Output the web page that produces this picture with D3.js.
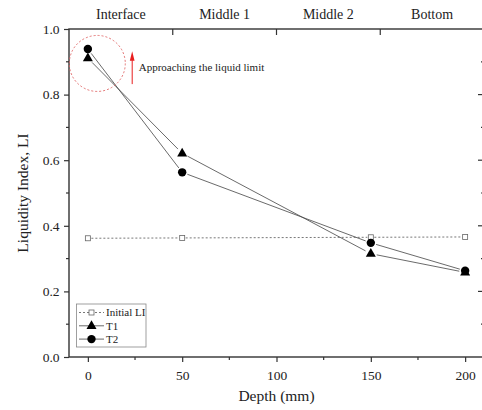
<!DOCTYPE html>
<html>
<head>
<meta charset="utf-8">
<script src="https://cdn.jsdelivr.net/npm/d3@7"></script>
<style>
  body { margin: 0; background: #fff; }
  svg text { font-family: "Liberation Serif", "Times New Roman", serif; fill: #222; }
</style>
</head>
<body>
<div id="chart"></div>
<script>
// Data
const depths = [0, 50, 150, 200];
const initialLI = [0.362, 0.363, 0.365, 0.366];
const t1 = [0.911, 0.621, 0.315, 0.258];
const t2 = [0.939, 0.563, 0.348, 0.263];
const zones = ["Interface", "Middle 1", "Middle 2", "Bottom"];
const xTicks = [0, 50, 100, 150, 200];
const yTicks = [0, 0.2, 0.4, 0.6, 0.8, 1.0];

const W = 482, H = 410;
const serif = '"Liberation Serif", "Times New Roman", serif';
const svg = d3.select("#chart").append("svg")
    .attr("width", W).attr("height", H);

// Scales
const x = d3.scaleLinear().domain([-10, 210]).range([69, 484]);
const y = d3.scaleLinear().domain([0, 1]).range([357, 29]);
const zone = d3.scaleBand().domain(zones).range(x.range());

const axisColor = "#333";

// Bottom axis
const xAxis = svg.append("g")
    .attr("transform", `translate(0,${y(0)})`)
    .call(d3.axisBottom(x).tickValues(xTicks).tickSize(5).tickSizeOuter(0).tickPadding(8.5));
xAxis.selectAll("line").attr("stroke", axisColor).attr("stroke-width", 1.2);
xAxis.selectAll("text").attr("fill", "#222").style("font-family", serif).style("font-size", "13.5px");
xAxis.select(".domain").remove();
xAxis.selectAll(".minor").data([25, 75, 125, 175]).enter().append("line")
    .attr("class", "minor")
    .attr("x1", d => x(d)).attr("x2", d => x(d)).attr("y1", 0).attr("y2", 3)
    .attr("stroke", axisColor).attr("stroke-width", 1.2);

// Left axis
const yAxis = svg.append("g")
    .attr("transform", `translate(${x.range()[0]},0)`)
    .call(d3.axisLeft(y).tickValues(yTicks).tickFormat(d3.format(".1f")).tickSize(5).tickSizeOuter(0).tickPadding(4.5));
yAxis.selectAll("line").attr("stroke", axisColor).attr("stroke-width", 1.2);
yAxis.selectAll("text").attr("fill", "#222").style("font-family", serif).style("font-size", "13.5px");
yAxis.select(".domain").remove();
yAxis.selectAll(".minor").data([0.1, 0.3, 0.5, 0.7, 0.9]).enter().append("line")
    .attr("class", "minor")
    .attr("x1", 0).attr("x2", -3).attr("y1", d => y(d)).attr("y2", d => y(d))
    .attr("stroke", axisColor).attr("stroke-width", 1.2);

// Right axis (ticks inward)
const rightX = x.range()[1];
svg.append("g").selectAll("line").data(d3.range(1, 10).map(i => i / 10)).enter().append("line")
    .attr("x1", rightX).attr("x2", (d, i) => rightX - (i % 2 === 1 ? 6 : 3))
    .attr("y1", d => y(d)).attr("y2", d => y(d))
    .attr("stroke", axisColor).attr("stroke-width", 1.2);

// Top axis with zone separators
svg.append("g").selectAll("line").data(zones.slice(1)).enter().append("line")
    .attr("x1", d => zone(d)).attr("x2", d => zone(d))
    .attr("y1", y(1)).attr("y2", y(1) + 6)
    .attr("stroke", axisColor).attr("stroke-width", 1.2);
svg.append("g").selectAll("text").data(zones).enter().append("text")
    .attr("x", d => zone(d) + zone.bandwidth() / 2)
    .attr("y", 19)
    .attr("text-anchor", "middle")
    .style("font-size", "14px")
    .text(d => d);

// Frame
svg.append("rect")
    .attr("x", x.range()[0]).attr("y", y(1))
    .attr("width", x.range()[1] - x.range()[0]).attr("height", y(0) - y(1))
    .attr("fill", "none").attr("stroke", axisColor).attr("stroke-width", 1.4);

// Axis titles
svg.append("text")
    .attr("x", (x.range()[0] + x.range()[1]) / 2).attr("y", 401)
    .attr("text-anchor", "middle").style("font-size", "15.5px")
    .text("Depth (mm)");
svg.append("text")
    .attr("transform", `translate(28,${(y(0) + y(1)) / 2}) rotate(-90)`)
    .attr("text-anchor", "middle").style("font-size", "15.5px")
    .text("Liquidity Index, LI");

// Draws a polyline as segments that stop short of the markers
function drawSeries(values, gap, color, dash) {
    const pts = depths.map((d, i) => [x(d), y(values[i])]);
    const segs = d3.pairs(pts).map(([a, b]) => {
        const dx = b[0] - a[0], dy = b[1] - a[1];
        const len = Math.hypot(dx, dy);
        const ux = dx / len, uy = dy / len;
        return [a[0] + ux * gap, a[1] + uy * gap, b[0] - ux * gap, b[1] - uy * gap];
    });
    svg.append("g").selectAll("line").data(segs).enter().append("line")
        .attr("x1", d => d[0]).attr("y1", d => d[1])
        .attr("x2", d => d[2]).attr("y2", d => d[3])
        .attr("stroke", color).attr("stroke-width", 0.8)
        .attr("stroke-dasharray", dash || null);
}

const triPath = "M0,-5.6L5,3.1L-5,3.1Z";

drawSeries(initialLI, 3.5, "#555", "2,2");
drawSeries(t1, 6, "#444");
drawSeries(t2, 5.5, "#444");

svg.append("g").selectAll("rect").data(initialLI).enter().append("rect")
    .attr("x", (d, i) => x(depths[i]) - 2.5).attr("y", d => y(d) - 2.5)
    .attr("width", 5).attr("height", 5)
    .attr("fill", "#fff").attr("stroke", "#666").attr("stroke-width", 0.8);
svg.append("g").selectAll("path").data(t1).enter().append("path")
    .attr("d", triPath)
    .attr("transform", (d, i) => `translate(${x(depths[i])},${y(d)})`)
    .attr("fill", "#000");
svg.append("g").selectAll("circle").data(t2).enter().append("circle")
    .attr("cx", (d, i) => x(depths[i])).attr("cy", d => y(d)).attr("r", 4.2)
    .attr("fill", "#000");

// Annotation: dashed circle, arrow and note
svg.append("circle")
    .attr("cx", x(5)).attr("cy", y(0.895)).attr("r", 28)
    .attr("fill", "none").attr("stroke", "#e06464").attr("stroke-width", 0.9)
    .attr("stroke-dasharray", "2,2");
const ax = x(23.5);
svg.append("line")
    .attr("x1", ax).attr("x2", ax).attr("y1", y(0.832)).attr("y2", y(0.905))
    .attr("stroke", "#e81e1e").attr("stroke-width", 1);
svg.append("path")
    .attr("d", `M${ax},${y(0.932)}L${ax + 2.4},${y(0.903)}L${ax - 2.4},${y(0.903)}Z`)
    .attr("fill", "#e81e1e");
svg.append("text")
    .attr("x", ax + 6.5).attr("y", y(0.872))
    .style("font-size", "11px")
    .text("Approaching the liquid limit");

// Legend
const legend = svg.append("g").attr("transform", "translate(76.5,304)");
legend.append("rect")
    .attr("width", 69.5).attr("height", 43)
    .attr("fill", "#fff").attr("stroke", "#888").attr("stroke-width", 0.8);
const items = [
    { name: "Initial LI", type: "square" },
    { name: "T1", type: "triangle" },
    { name: "T2", type: "circle" }
];
items.forEach((it, i) => {
    const ly = 8.5 + i * 13.3;
    legend.append("line")
        .attr("x1", 2.5).attr("x2", 27.5).attr("y1", ly).attr("y2", ly)
        .attr("stroke", it.type === "square" ? "#555" : "#444").attr("stroke-width", 0.8)
        .attr("stroke-dasharray", it.type === "square" ? "2,2" : null);
    if (it.type === "square") {
        legend.append("rect").attr("x", 12.5).attr("y", ly - 2.5)
            .attr("width", 5).attr("height", 5)
            .attr("fill", "#fff").attr("stroke", "#666").attr("stroke-width", 0.8);
    } else if (it.type === "triangle") {
        legend.append("path").attr("d", triPath)
            .attr("transform", `translate(15,${ly})`).attr("fill", "#000");
    } else {
        legend.append("circle").attr("cx", 15).attr("cy", ly).attr("r", 4.2).attr("fill", "#000");
    }
    legend.append("text")
        .attr("x", 29.5).attr("y", ly).attr("dy", "0.35em")
        .style("font-size", "11px")
        .text(it.name);
});

// keep axes on top
xAxis.raise();
yAxis.raise();
</script>
</body>
</html>
